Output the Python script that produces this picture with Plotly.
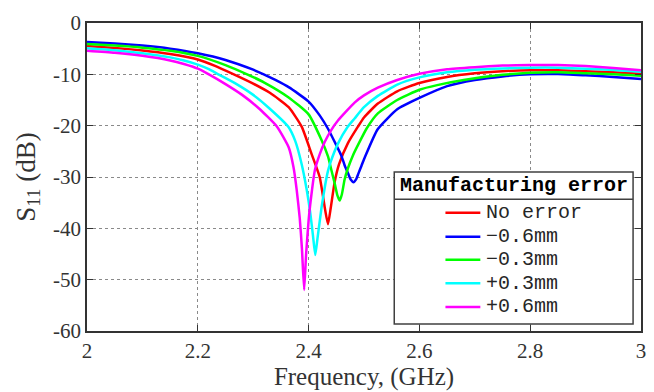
import plotly.graph_objects as go

# ---------------- data ----------------
f_red = [2.00, 2.05, 2.10, 2.15, 2.20, 2.23, 2.265, 2.30, 2.33, 2.364, 2.3875, 2.405, 2.42, 2.43, 2.435,
         2.44, 2.447, 2.455, 2.471, 2.489, 2.50, 2.525, 2.56, 2.60, 2.65, 2.70, 2.75, 2.80, 2.85, 2.90, 2.95, 3.00]
s_red = [-4.5, -4.85, -5.35, -6.05, -7.1, -8.3, -10.0, -11.8, -13.6, -16.4, -20.2, -25.4, -30.0, -36.5, -39.2,
         -36.0, -31.0, -27.5, -23.4, -20.2, -18.4, -15.7, -13.3, -11.7, -10.5, -9.8, -9.4, -9.2, -9.2, -9.4, -9.6, -9.9]

f_blue = [2.00, 2.05, 2.10, 2.15, 2.20, 2.25, 2.30, 2.319, 2.34, 2.364, 2.40, 2.42, 2.435, 2.45, 2.459, 2.465, 2.472,
          2.476, 2.481, 2.486, 2.490, 2.4955, 2.5006, 2.5247, 2.56, 2.60, 2.65, 2.70, 2.75, 2.80, 2.85, 2.90, 2.95, 3.00]
s_blue = [-3.7, -4.0, -4.4, -5.0, -5.9, -7.2, -9.1, -10.0, -11.1, -12.5, -15.3, -18.0, -20.6, -23.8, -25.8, -27.7, -29.5,
          -30.5, -31.0, -30.4, -29.3, -27.8, -26.4, -20.7, -16.8, -14.6, -12.3, -11.1, -10.4, -10.0, -9.95, -10.2, -10.5, -10.9]

f_green = [2.00, 2.05, 2.10, 2.15, 2.20, 2.25, 2.289, 2.32, 2.364, 2.40, 2.4233, 2.435, 2.441, 2.447, 2.452, 2.456,
           2.460, 2.465, 2.471, 2.48, 2.489, 2.505, 2.525, 2.56, 2.60, 2.632, 2.68, 2.75, 2.80, 2.85, 2.90, 2.95, 3.00]
s_green = [-4.1, -4.4, -4.8, -5.4, -6.4, -8.2, -10.0, -11.6, -14.5, -17.8, -22.8, -26.0, -28.6, -31.2, -33.6, -34.6,
           -33.4, -30.5, -28.3, -25.8, -23.8, -20.5, -17.6, -15.0, -13.0, -12.1, -11.1, -10.1, -9.7, -9.6, -9.8, -10.0, -10.3]

f_cyan = [2.00, 2.05, 2.10, 2.15, 2.175, 2.20, 2.22, 2.237, 2.27, 2.30, 2.33, 2.364, 2.376, 2.3875, 2.3966, 2.403, 2.408, 2.412,
          2.416, 2.4233, 2.43, 2.435, 2.44, 2.453, 2.47, 2.483, 2.50, 2.525, 2.56, 2.60, 2.65, 2.70, 2.75, 2.80, 2.85, 2.90, 2.95, 3.00]
s_cyan = [-4.9, -5.3, -5.9, -6.7, -7.3, -8.1, -9.0, -10.0, -11.9, -14.0, -16.7, -20.3, -23.0, -27.5, -32.5, -37.0, -41.5, -45.2,
          -42.0, -36.0, -31.5, -28.8, -27.0, -23.5, -20.3, -18.6, -16.4, -14.2, -12.0, -10.6, -9.6, -9.1, -8.85, -8.7, -8.7, -8.9, -9.15, -9.5]

f_mag = [2.00, 2.05, 2.10, 2.15, 2.175, 2.20, 2.22, 2.25, 2.28, 2.31, 2.343, 2.364, 2.3726, 2.3785, 2.384, 2.388, 2.392,
         2.3955, 2.40, 2.4025, 2.4115, 2.42, 2.429, 2.44, 2.453, 2.483, 2.50, 2.525, 2.56, 2.60, 2.65, 2.70, 2.75, 2.80, 2.85, 2.90, 2.95, 3.00]
s_mag = [-5.4, -5.8, -6.4, -7.3, -8.0, -8.9, -10.0, -11.9, -14.0, -16.6, -20.2, -24.2, -28.0, -32.5, -38.0, -44.0, -52.0,
         -45.0, -38.5, -35.8, -28.6, -25.6, -23.2, -21.0, -19.0, -15.5, -14.1, -12.6, -11.1, -9.9, -9.0, -8.6, -8.3, -8.2, -8.2, -8.4, -8.75, -9.2]

series_names = ["No error", "\u22120.6mm", "\u22120.3mm", "+0.3mm", "+0.6mm"]
series_colors = ["#ff0000", "#0000ff", "#00ff00", "#00ffff", "#ff00ff"]
series_x = [f_red, f_blue, f_green, f_cyan, f_mag]
series_y = [s_red, s_blue, s_green, s_cyan, s_mag]

x_ticks = [2.0, 2.2, 2.4, 2.6, 2.8, 3.0]
x_ticklabels = ["2", "2.2", "2.4", "2.6", "2.8", "3"]
y_ticks = [0, -10, -20, -30, -40, -50, -60]
y_ticklabels = ["0", "-10", "-20", "-30", "-40", "-50", "-60"]

legend_title = "Manufacturing error"

# ---------------- figure ----------------
fig = go.Figure()
for xs, ys, name, col in zip(series_x, series_y, series_names, series_colors):
    fig.add_trace(go.Scatter(x=xs, y=ys, mode="lines", name=name,
                             line=dict(color=col, width=2.5, shape="spline", smoothing=0.5)))

axis_col = "#333333"
txt_col = "#333333"
common = dict(showline=True, linecolor=axis_col, linewidth=1.5, mirror="allticks",
              ticks="inside", ticklen=6, tickwidth=1.2, tickcolor=axis_col,
              showgrid=True, gridcolor="#8a8a8a", griddash="dot", gridwidth=1,
              zeroline=False, tickfont=dict(family="Liberation Serif", size=21, color=txt_col))

fig.update_xaxes(range=[2, 3], tickvals=x_ticks, ticktext=x_ticklabels,
                 title=dict(text="Frequency, (GHz)", font=dict(family="Liberation Serif", size=25, color=txt_col), standoff=1),
                 **common)
fig.update_yaxes(range=[-60, 0], tickvals=y_ticks, ticktext=y_ticklabels,
                 title=dict(text="S<sub>11</sub> (dB)",
                            font=dict(family="Liberation Serif", size=27, color=txt_col), standoff=10),
                 **common)

# ---------------- manual legend ----------------
lx0, lx1, ly0, ly1 = 0.5546, 0.9857, 0.0227, 0.5162
sep_y = 0.4276
shapes = [
    dict(type="rect", xref="paper", yref="paper", x0=lx0, x1=lx1, y0=ly0, y1=ly1,
         fillcolor="white", line=dict(color="#404040", width=1.5), layer="above"),
    dict(type="line", xref="paper", yref="paper", x0=lx0, x1=lx1, y0=sep_y, y1=sep_y,
         line=dict(color="#404040", width=1.5), layer="above"),
]
row_y = [0.384, 0.306, 0.231, 0.155, 0.078]
annotations = [dict(text="<b>" + legend_title + "</b>", xref="paper", yref="paper",
                    x=(lx0 + lx1) / 2, y=(ly1 + sep_y) / 2, xanchor="center", yanchor="middle",
                    showarrow=False, font=dict(family="Liberation Mono", size=20, color="black"))]
for name, col, ry in zip(series_names, series_colors, row_y):
    shapes.append(dict(type="line", xref="paper", yref="paper", x0=0.647, x1=0.710, y0=ry, y1=ry,
                       line=dict(color=col, width=2.5), layer="above"))
    annotations.append(dict(text=name, xref="paper", yref="paper", x=0.716, y=ry,
                            xanchor="left", yanchor="middle", showarrow=False,
                            font=dict(family="Liberation Mono", size=20, color="#262626")))

fig.update_layout(width=654, height=392, margin=dict(l=87, r=8, t=23, b=61),
                  plot_bgcolor="white", paper_bgcolor="white", showlegend=False,
                  shapes=shapes, annotations=annotations)

fig.write_html("out.html")
